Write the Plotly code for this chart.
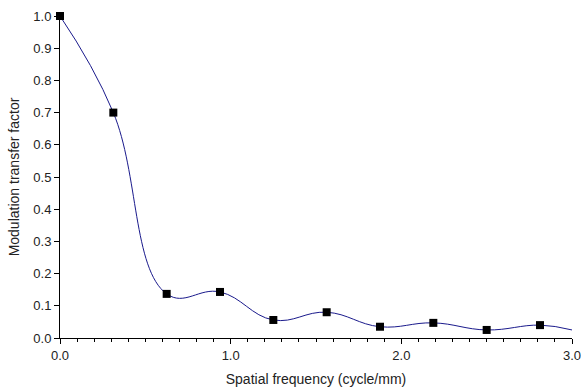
import plotly.graph_objects as go

freq = [0.0, 0.3125, 0.625, 0.9375, 1.25, 1.5625, 1.875, 2.1875, 2.5, 2.8125]
mtf = [1.0, 0.70, 0.137, 0.143, 0.056, 0.080, 0.035, 0.047, 0.025, 0.040]
line_freq = freq + [3.0]
line_mtf = mtf + [0.025]

fig = go.Figure()
fig.add_trace(go.Scatter(x=line_freq, y=line_mtf, mode="lines",
                         line=dict(color="#1a1a8c", width=1, shape="spline", smoothing=1.2),
                         hoverinfo="skip", showlegend=False, cliponaxis=False))
fig.add_trace(go.Scatter(x=freq, y=mtf, mode="markers",
                         marker=dict(symbol="square", size=8, color="black"),
                         showlegend=False, cliponaxis=False))

font = dict(family="Liberation Sans, Arial, sans-serif", size=12, color="#222")
tickfont = dict(family="Liberation Sans, Arial, sans-serif", size=13, color="#222")
fig.update_layout(
    width=581, height=392,
    margin=dict(l=60, r=9, t=16, b=54),
    paper_bgcolor="white", plot_bgcolor="white",
    font=font,
    xaxis=dict(range=[0, 3], tickvals=[0, 1, 2, 3], ticktext=["0.0", "1.0", "2.0", "3.0"],
               ticks="outside", ticklen=5, tickcolor="black", tickwidth=1, tickfont=tickfont,
               ticklabeloverflow="allow",
               showline=True, linecolor="black", linewidth=1, showgrid=False, zeroline=False,
               automargin=False,
               minor=dict(dtick=0.1, tick0=0, ticks="outside", ticklen=3, tickcolor="black", showgrid=False),
               title=dict(text="Spatial frequency (cycle/mm)", standoff=12)),
    yaxis=dict(range=[0, 1], dtick=0.1, tickformat=".1f",
               ticks="outside", ticklen=5, tickcolor="black", tickwidth=1, tickfont=tickfont,
               showline=True, linecolor="black", linewidth=1, showgrid=False, zeroline=False,
               automargin=False,
               title=dict(text="Modulation transfer factor", standoff=10)),
)
fig.write_html("out.html")
